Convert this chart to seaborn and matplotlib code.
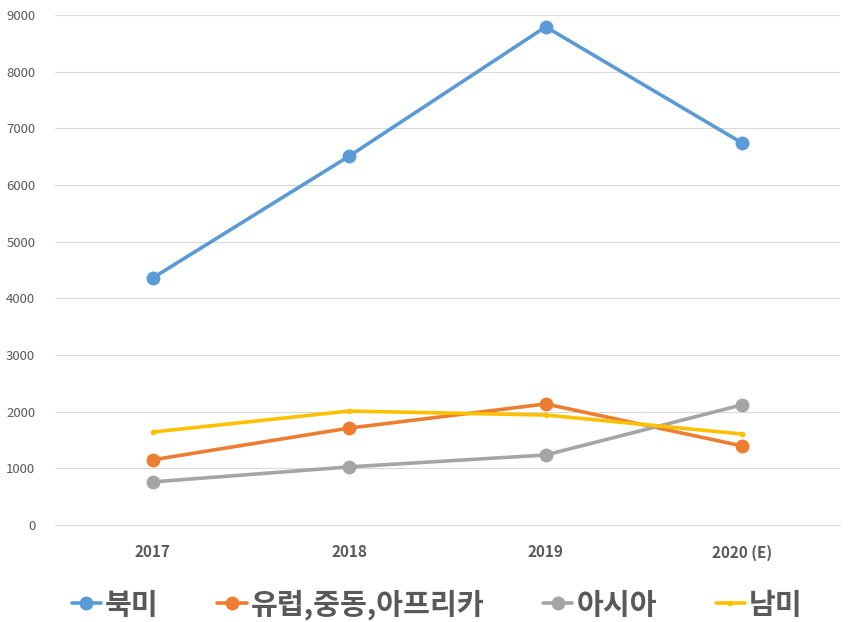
import matplotlib.pyplot as plt
import seaborn as sns
import pandas as pd

years = ["2017", "2018", "2019", "2020 (E)"]
north_america = [4360, 6510, 8790, 6740]
europe_me_africa = [1150, 1710, 2135, 1395]
asia = [760, 1025, 1235, 2120]
south_america = [1640, 2010, 1940, 1605]

series_names = ["북미", "유럽,중동,아프리카", "아시아", "남미"]
colors = ["#5B9BD5", "#ED7D31", "#A5A5A5", "#FFC000"]
marker_sizes = [10, 10, 10, 4]

sns.set_style("white")
plt.rcParams["font.family"] = ["Noto Sans CJK KR", "DejaVu Sans"]

fig = plt.figure(figsize=(8.54, 6.22), dpi=100)
ax = fig.add_axes([0.064, 0.156, 0.92, 0.82])

values = [north_america, europe_me_africa, asia, south_america]
for name, vals, color, ms in zip(series_names, values, colors, marker_sizes):
    df = pd.DataFrame({"x": range(len(years)), "y": vals})
    sns.lineplot(data=df, x="x", y="y", ax=ax, color=color, linewidth=2.6,
                 marker="o", markersize=ms, markeredgewidth=0, label=name)

ax.set_xlim(-0.5, 3.5)
ax.set_ylim(0, 9000)
ax.set_yticks(range(0, 9001, 1000))
ax.set_xticks(range(len(years)))
ax.set_xticklabels(years, fontweight="bold")
ax.set_xlabel("")
ax.set_ylabel("")
ax.grid(axis="y", color="#D9D9D9", linewidth=0.8)
ax.set_axisbelow(True)
for side in ["top", "right", "left"]:
    ax.spines[side].set_visible(False)
ax.spines["bottom"].set_color("#D9D9D9")
ax.tick_params(axis="both", length=0, colors="#595959")
ax.tick_params(axis="y", labelsize=9.5, pad=14)
ax.tick_params(axis="x", labelsize=11, pad=14)

leg = ax.legend(loc="upper center", bbox_to_anchor=(0.487, -0.075), ncol=4,
                frameon=False, handlelength=1.0, columnspacing=2.0, handletextpad=0.15,
                prop={"family": ["Noto Sans CJK KR", "DejaVu Sans"], "weight": "bold", "size": 21},
                labelcolor="#595959")

fig.savefig("out.png", dpi=100)
plt.close(fig)
